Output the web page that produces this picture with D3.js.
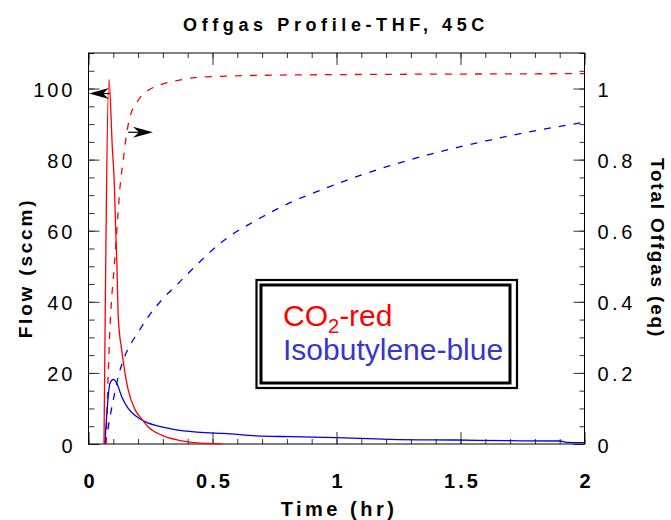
<!DOCTYPE html>
<html>
<head>
<meta charset="utf-8">
<script src="https://cdn.jsdelivr.net/npm/d3@7"></script>
<style>
body { margin: 0; background: #fff; }
svg { display: block; font-family: "Liberation Sans", Arial, sans-serif; }
</style>
</head>
<body>
<div id="chart"></div>
<script>
// axis ticks
var timeTicks = [0, 0.5, 1, 1.5, 2];
var flowTicks = [0, 20, 40, 60, 80, 100];
var totalTicks = [0, 0.2, 0.4, 0.6, 0.8, 1];

// CO2 flow (sccm) vs time (hr)
var co2Flow = [[0.0625,0],[0.0827,102.6],[0.096,83.5],[0.104,73.4],[0.110,59.3],[0.114,51.7],
  [0.120,35.7],[0.134,26.4],[0.147,20],[0.160,15.2],[0.188,9.6],[0.208,7.6],[0.241,4.8],
  [0.295,2.5],[0.361,1.1],[0.429,0.4],[0.51,0.1],[0.54,0]];

// CO2 total offgas (eq)
var co2Total = [[0.071,0],[0.084,0.284],[0.107,0.531],[0.118,0.639],[0.127,0.723],[0.140,0.798],
  [0.150,0.855],[0.160,0.898],[0.174,0.935],[0.194,0.960],[0.215,0.981],[0.241,0.995],[0.295,1.012],
  [0.361,1.023],[0.429,1.031],[0.678,1.037],[0.946,1.039],[1.216,1.040],[1.6,1.041],[2.0,1.042]];

// isobutylene flow (sccm)
var isoFlow = [[0.066,0],[0.0867,17.1],[0.100,18.2],[0.114,17.1],[0.134,13.3],[0.160,10.0],
  [0.188,8.0],[0.228,6.3],[0.295,4.8],[0.362,3.9],[0.470,3.2],[0.544,3.0],[0.678,2.3],[0.813,2.05],
  [1.0,1.77],[1.216,1.32],[1.485,1.12],[1.686,0.93],[1.901,0.84],[1.928,0.48],[2.0,0.37]];

// isobutylene total offgas (eq)
var isoTotal = [[0.066,0],[0.073,0.021],[0.087,0.077],[0.100,0.124],[0.120,0.189],[0.140,0.236],
  [0.160,0.268],[0.201,0.315],[0.241,0.358],[0.295,0.405],[0.362,0.452],[0.429,0.499],[0.544,0.572],
  [0.678,0.630],[0.813,0.679],[0.947,0.717],[1.081,0.752],[1.216,0.783],[1.350,0.810],[1.485,0.834],
  [1.619,0.855],[1.754,0.875],[1.888,0.892],[2.0,0.905]];

// annotation arrows: which axis they point to
var leftArrow = [[0.087, 98.6], [0.002, 98.6]];
var rightArrow = [[0.16, 0.877], [0.26, 0.877]];

var width = 671, height = 520;
var plotLeft = 88.5, plotRight = 584.5, plotTop = 53, plotBottom = 444;

var svg = d3.select("#chart").append("svg")
  .attr("width", width).attr("height", height);

var x = d3.scaleLinear().domain([0, 2]).range([plotLeft, plotRight]);
var yL = d3.scaleLinear().domain([0, 110]).range([plotBottom, plotTop]);
var yR = d3.scaleLinear().domain([0, 1.1]).range([plotBottom, plotTop]);

function drawAxis(axis, tx, ty, cls){
  var g = svg.append("g").attr("class", cls)
    .attr("transform", "translate(" + tx + "," + ty + ")")
    .call(axis);
  g.select(".domain").remove();
  g.selectAll(".tick line").attr("stroke", "#333");
  return g;
}

// minor ticks
drawAxis(d3.axisBottom(x).tickValues(d3.range(0, 2.01, 0.1)).tickSize(-5).tickFormat(""), 0, plotBottom, "xmin");
drawAxis(d3.axisTop(x).tickValues(d3.range(0, 2.01, 0.1)).tickSize(-5).tickFormat(""), 0, plotTop, "xtmin");
drawAxis(d3.axisLeft(yL).tickValues(d3.range(0, 111, 5)).tickSize(-6).tickFormat(""), plotLeft, 0, "ylmin");
drawAxis(d3.axisRight(yR).tickValues(d3.range(0, 1.101, 0.05)).tickSize(-5).tickFormat(""), plotRight, 0, "yrmin");

// major ticks
var gx = drawAxis(d3.axisBottom(x).tickValues(timeTicks).tickSize(-12).tickPadding(30).tickFormat(function(d){ return d; }), 0, plotBottom, "xmaj");
gx.selectAll("text").attr("font-size", 20).attr("font-weight", "bold").attr("fill", "#000")
  .attr("letter-spacing", 3).attr("dx", 1.5).attr("font-family", "Liberation Sans, Arial, sans-serif");
drawAxis(d3.axisTop(x).tickValues(timeTicks).tickSize(-12).tickFormat(""), 0, plotTop, "xtmaj");

var gl = drawAxis(d3.axisLeft(yL).tickValues(flowTicks).tickSize(-11).tickPadding(13).tickFormat(function(d){ return d; }), plotLeft, 0, "ylmaj");
gl.selectAll("text").attr("font-size", 20).attr("fill", "#000").attr("letter-spacing", 3)
  .attr("dy", "0.4em").attr("font-family", "Liberation Sans, Arial, sans-serif");

var gr = drawAxis(d3.axisRight(yR).tickValues(totalTicks).tickSize(-11).tickPadding(13).tickFormat(function(d){ return d; }), plotRight, 0, "yrmaj");
gr.selectAll("text").attr("font-size", 20).attr("fill", "#000").attr("letter-spacing", 3.5)
  .attr("dy", "0.4em").attr("font-family", "Liberation Sans, Arial, sans-serif");

// frame
svg.append("rect").attr("x", plotLeft).attr("y", plotTop)
  .attr("width", plotRight - plotLeft).attr("height", plotBottom - plotTop)
  .attr("fill", "none").attr("stroke", "#000").attr("stroke-width", 1);

// curves
var lineL = d3.line().x(function(d){ return x(d[0]); }).y(function(d){ return yL(d[1]); }).curve(d3.curveMonotoneX);
var lineR = d3.line().x(function(d){ return x(d[0]); }).y(function(d){ return yR(d[1]); }).curve(d3.curveMonotoneX);

function drawCurve(data, gen, color, dash){
  svg.append("path").datum(data)
    .attr("d", gen).attr("fill", "none")
    .attr("stroke", color).attr("stroke-width", 1.3)
    .attr("stroke-dasharray", dash);
}
drawCurve(isoTotal, lineR, "#0000e6", "7,8");
drawCurve(co2Total, lineR, "#ff0000", "7,8");
drawCurve(isoFlow, lineL, "#0000e6", null);
drawCurve(co2Flow, lineL, "#ff0000", null);

// arrows
function drawArrow(pts, yScale){
  var x1 = x(pts[0][0]), y1 = yScale(pts[0][1]);
  var x2 = x(pts[1][0]), y2 = yScale(pts[1][1]);
  var len = Math.hypot(x2 - x1, y2 - y1);
  var ux = (x2 - x1) / len, uy = (y2 - y1) / len;
  var px = -uy, py = ux;
  var hl = 20, hw = 5.5, notch = 14;
  svg.append("line").attr("x1", x1).attr("y1", y1)
    .attr("x2", x2 - ux * notch).attr("y2", y2 - uy * notch)
    .attr("stroke", "#000").attr("stroke-width", 1.2);
  var head = [
    [x2, y2],
    [x2 - ux * hl + px * hw, y2 - uy * hl + py * hw],
    [x2 - ux * notch, y2 - uy * notch],
    [x2 - ux * hl - px * hw, y2 - uy * hl - py * hw]
  ];
  svg.append("path").attr("d", "M" + head.join("L") + "Z").attr("fill", "#000");
}
drawArrow(leftArrow, yL);
drawArrow(rightArrow, yR);

// legend box
svg.append("rect").attr("x", 256.5).attr("y", 280).attr("width", 260.5).attr("height", 108)
  .attr("fill", "#fff").attr("stroke", "#000").attr("stroke-width", 2.2);
svg.append("rect").attr("x", 261).attr("y", 285).attr("width", 249).attr("height", 98)
  .attr("fill", "none").attr("stroke", "#000").attr("stroke-width", 3);

var co2Label = svg.append("text").attr("x", 283).attr("y", 326)
  .attr("font-size", 30).attr("fill", "#ff0000");
co2Label.append("tspan").text("CO");
co2Label.append("tspan").attr("dy", 7).attr("font-size", 20).text("2");
co2Label.append("tspan").attr("dy", -7).text("-red");

svg.append("text").attr("x", 283).attr("y", 360)
  .attr("font-size", 30).attr("fill", "#3636cc").text("Isobutylene-blue");

// titles
svg.append("text").attr("x", 336).attr("y", 31).attr("text-anchor", "middle")
  .attr("font-size", 18).attr("font-weight", "bold").attr("letter-spacing", 4.6)
  .text("Offgas Profile-THF, 45C");

svg.append("text").attr("x", 339).attr("y", 516).attr("text-anchor", "middle")
  .attr("font-size", 20).attr("font-weight", "bold").attr("letter-spacing", 3.5)
  .text("Time (hr)");

svg.append("text").attr("transform", "translate(32,268) rotate(-90)").attr("text-anchor", "middle")
  .attr("font-size", 19).attr("font-weight", "bold").attr("letter-spacing", 2.8)
  .text("Flow (sccm)");

svg.append("text").attr("transform", "translate(651,248) rotate(90)").attr("text-anchor", "middle")
  .attr("font-size", 19).attr("font-weight", "bold").attr("letter-spacing", 1.8)
  .text("Total Offgas (eq)");
</script>
</body>
</html>
